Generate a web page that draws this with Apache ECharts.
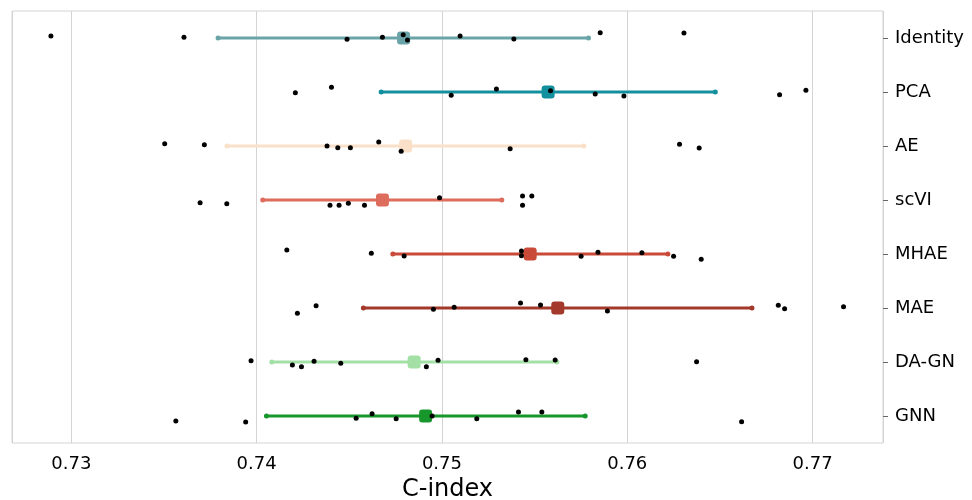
<!DOCTYPE html>
<html>
<head>
<meta charset="utf-8">
<script src="https://cdn.jsdelivr.net/npm/echarts@6/dist/echarts.min.js"></script>
<style>html,body{margin:0;padding:0;background:#fff;}#chart{width:972px;height:500px;}</style>
</head>
<body>
<div id="chart"></div>
<script>
const categories = ['Identity', 'PCA', 'AE', 'scVI', 'MHAE', 'MAE', 'DA-GN', 'GNN'];
const colors = ['#6aa4a8', '#13909e', '#fae0c8', '#de6c5c', '#c94a38', '#a3392a', '#a3e0a5', '#17962b'];
const means = [0.74793, 0.75573, 0.74804, 0.74679, 0.75476, 0.75625, 0.74850, 0.74912];
const errLow = [0.73792, 0.74672, 0.73840, 0.74033, 0.74735, 0.74576, 0.74082, 0.74053];
const errHigh = [0.75791, 0.76475, 0.75766, 0.75323, 0.76219, 0.76673, 0.75620, 0.75773];

const identityRuns = [0.72890, 0.73608, 0.74488, 0.74679, 0.74791, 0.74814, 0.75098, 0.75388, 0.75854, 0.76306];
const pcaRuns = [0.74209, 0.74404, 0.75050, 0.75294, 0.75586, 0.75827, 0.75982, 0.76822, 0.76964];
const aeRuns = [0.73504, 0.73718, 0.74380, 0.74438, 0.74506, 0.74659, 0.74780, 0.75368, 0.76282, 0.76388];
const scviRuns = [0.73695, 0.73839, 0.74396, 0.74445, 0.74495, 0.74582, 0.74987, 0.75435, 0.75485, 0.75435];
const mhaeRuns = [0.74163, 0.74619, 0.74796, 0.75429, 0.75429, 0.75751, 0.75842, 0.76079, 0.76250, 0.76399];
const maeRuns = [0.74220, 0.74321, 0.74954, 0.75066, 0.75424, 0.75532, 0.75893, 0.76815, 0.76849, 0.77167];
const dagnRuns = [0.73970, 0.74193, 0.74242, 0.74310, 0.74454, 0.74916, 0.74979, 0.75453, 0.75611, 0.76374];
const gnnRuns = [0.73564, 0.73941, 0.74537, 0.74623, 0.74753, 0.74947, 0.75188, 0.75413, 0.75539, 0.76617];

const identityJitter = [-0.037, -0.013, 0.024, -0.013, -0.061, 0.037, -0.037, 0.019, -0.098, -0.093];
const pcaJitter = [0.013, -0.087, 0.061, -0.056, -0.024, 0.037, 0.074, 0.05, -0.031];
const aeJitter = [-0.043, -0.024, 0, 0.031, 0.031, -0.074, 0.098, 0.05, -0.031, 0.037];
const scviJitter = [0.05, 0.069, 0.098, 0.098, 0.061, 0.098, -0.043, -0.074, -0.074, 0.098];
const mhaeJitter = [-0.074, -0.013, 0.037, -0.056, 0.031, 0.043, -0.031, -0.024, 0.043, 0.098];
const maeJitter = [0.098, -0.043, 0.024, -0.013, -0.093, -0.056, 0.056, -0.05, 0.013, -0.024];
const dagnJitter = [-0.024, 0.056, 0.087, -0.013, 0.024, 0.087, -0.031, -0.043, -0.037, -0.006];
const gnnJitter = [0.093, 0.111, 0.043, -0.043, 0.05, 0, 0.05, -0.074, -0.074, 0.106];

const xTicks = [0.73, 0.74, 0.75, 0.76, 0.77];

const allRuns = [identityRuns, pcaRuns, aeRuns, scviRuns, mhaeRuns, maeRuns, dagnRuns, gnnRuns];
const allJitter = [identityJitter, pcaJitter, aeJitter, scviJitter, mhaeJitter, maeJitter, dagnJitter, gnnJitter];

const FONT = 'DejaVu Sans';
const series = [];
categories.forEach((c, i) => {
  series.push({
    type: 'line', yAxisIndex: 1, name: c + ' err',
    data: [[errLow[i], i], [errHigh[i], i]],
    lineStyle: { color: colors[i], width: 3 },
    itemStyle: { color: colors[i] },
    symbol: 'circle', symbolSize: 5, showSymbol: true,
    silent: true, animation: false, z: 2
  });
});
categories.forEach((c, i) => {
  series.push({
    type: 'scatter', yAxisIndex: 1, name: c + ' mean',
    data: [[means[i], i]],
    symbol: 'roundRect', symbolSize: 13,
    itemStyle: { color: colors[i], opacity: 1 },
    silent: true, animation: false, z: 3
  });
});
const dots = [];
allRuns.forEach((runs, i) => {
  runs.forEach((v, k) => dots.push([v, i + allJitter[i][k]]));
});
series.push({
  type: 'scatter', yAxisIndex: 1, name: 'runs',
  data: dots, symbol: 'circle', symbolSize: 5,
  itemStyle: { color: '#000', opacity: 1 },
  silent: true, animation: false, z: 4
});

const chart = echarts.init(document.getElementById('chart'), null, { renderer: 'canvas' });
chart.setOption({
  animation: false,
  grid: { left: 12, right: 89, top: 11, bottom: 57, outerBoundsMode: 'none', containLabel: false, show: true, borderColor: '#d4d4d4', borderWidth: 1, backgroundColor: 'transparent' },
  xAxis: {
    type: 'value', min: 0.7268, max: 0.7738, splitNumber: 5,
    name: 'C-index', nameLocation: 'middle', nameGap: 33,
    nameTextStyle: { fontFamily: FONT, fontSize: 24, color: '#000' },
    axisLine: { show: false }, axisTick: { show: false },
    axisLabel: {
      fontFamily: FONT, fontSize: 18, color: '#000', margin: 12,
      showMinLabel: false, showMaxLabel: false,
      formatter: v => { const t = xTicks.find(x => Math.abs(x - v) < 1e-6); return t === undefined ? '' : t.toFixed(2); }
    },
    splitLine: { show: true, lineStyle: { color: '#d4d4d4', width: 1 } }
  },
  yAxis: [{
    type: 'category', data: categories, inverse: true, position: 'right',
    axisLine: { show: false },
    axisTick: { show: true, alignWithLabel: true, length: 5, lineStyle: { color: '#666' } },
    axisLabel: { fontFamily: FONT, fontSize: 18, color: '#000', margin: 12 },
    splitLine: { show: false }
  }, {
    type: 'value', min: -0.5, max: 7.5, inverse: true, show: false,
    splitLine: { show: false }
  }],
  series: series
});
</script>
</body>
</html>
